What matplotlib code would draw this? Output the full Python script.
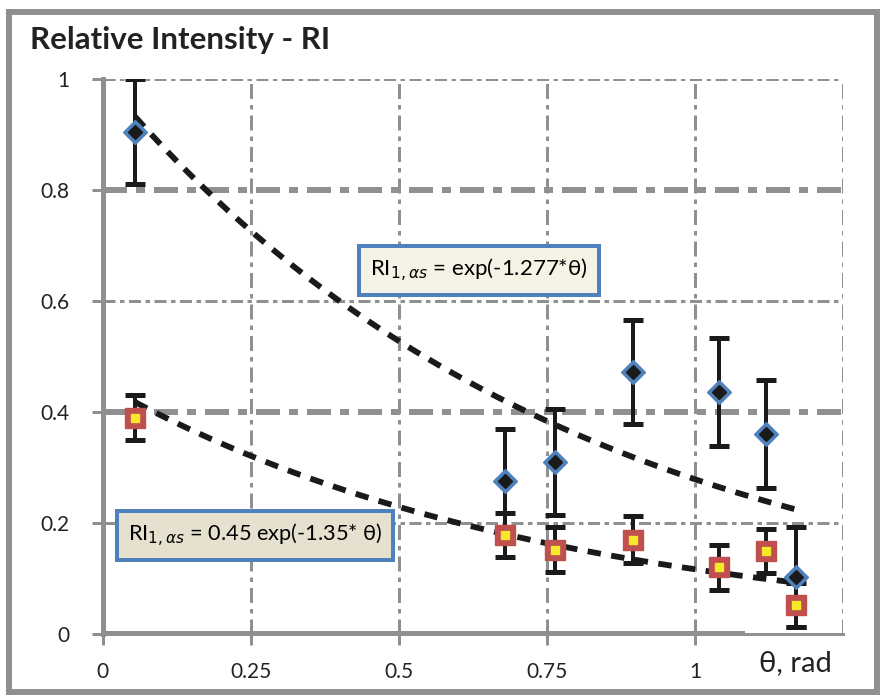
import numpy as np
import matplotlib.pyplot as plt
from matplotlib.patches import Rectangle

plt.rcParams['font.family'] = ['Lato', 'DejaVu Sans']

# measured points, upper series (diamonds)
theta_up = [0.055, 0.68, 0.764, 0.896, 1.04, 1.12, 1.17]
ri_up = [0.905, 0.275, 0.31, 0.472, 0.436, 0.36, 0.103]
err_up = [0.095, 0.095, 0.095, 0.093, 0.097, 0.097, 0.09]

# measured points, lower series (squares)
theta_lo = [0.055, 0.68, 0.764, 0.896, 1.04, 1.12, 1.17]
ri_lo = [0.39, 0.178, 0.152, 0.17, 0.12, 0.15, 0.052]
err_lo = [0.04, 0.04, 0.04, 0.042, 0.04, 0.04, 0.04]

# fitted trend lines shown in the boxes
a_up, k_up = 1.0, 1.277
a_lo, k_lo = 0.45, 1.35

xticks = [0, 0.25, 0.5, 0.75, 1]
xtick_labels = ['0', '0.25', '0.5', '0.75', '1']
yticks = [0, 0.2, 0.4, 0.6, 0.8, 1]
ytick_labels = ['0', '0.2', '0.4', '0.6', '0.8', '1']

grey = '#909090'
px = 72 / 100  # one pixel in points

fig = plt.figure(figsize=(8.83, 6.97), dpi=100)
fig.patches.append(Rectangle((9 / 883, 5 / 697), 868 / 883, 680 / 697,
                             transform=fig.transFigure, fill=False,
                             edgecolor=grey, linewidth=6 * px))
ax = fig.add_axes([102.5 / 883, 1 - 634 / 697, 740.5 / 883, 555 / 697])
ax.set_xlim(0, 1.25)
ax.set_ylim(0, 1)

# grid lines (Excel style dash-dot)
for y in [0.2, 0.4, 0.6, 0.8, 1.0]:
    w = 6 if y in (0.4, 0.8) else 3
    ax.axhline(y, color=grey, lw=w * px, dashes=(4, 1.5, 1.5, 1.5), zorder=0)
for x in [0.25, 0.5, 0.75, 1.0, 1.25]:
    ax.axvline(x, color=grey, lw=3 * px, dashes=(5, 2, 1.5, 2), zorder=0)

for s in ['top', 'right']:
    ax.spines[s].set_visible(False)
ax.spines['left'].set_color(grey)
ax.spines['left'].set_linewidth(5 * px)
ax.spines['bottom'].set_color(grey)
ax.spines['bottom'].set_linewidth(3 * px)
ax.axhline(0, xmax=1.08 / 1.25, color=grey, lw=6 * px, zorder=1)

ax.set_xticks(xticks)
ax.set_xticklabels(xtick_labels)
ax.set_yticks(yticks)
ax.set_yticklabels(ytick_labels)
ax.tick_params(axis='both', colors=grey, width=3 * px, length=8, labelsize=15,
               labelcolor='#222222')
ax.tick_params(axis='x', pad=12)
ax.tick_params(axis='y', pad=16)

# trend lines
tt = np.linspace(min(theta_up), max(theta_up), 200)
ax.plot(tt, a_up * np.exp(-k_up * tt), color='#1a1a1a', lw=4.2, dashes=(2.3, 1.8), zorder=3)
ax.plot(tt, a_lo * np.exp(-k_lo * tt), color='#1a1a1a', lw=4.2, dashes=(2.3, 1.8), zorder=3)

# error bars
ax.errorbar(theta_up, ri_up, yerr=err_up, fmt='none', ecolor='#1a1a1a',
            elinewidth=4 * px, capsize=7, capthick=5 * px, zorder=4)
ax.errorbar(theta_lo, ri_lo, yerr=err_lo, fmt='none', ecolor='#1a1a1a',
            elinewidth=4 * px, capsize=7, capthick=5 * px, zorder=4)

# markers
ax.plot(theta_up, ri_up, 'D', ms=12, mfc='#4f81bd', mec='#4f81bd', zorder=5)
ax.plot(theta_up, ri_up, 'D', ms=7, mfc='#1a1a1a', mec='#1a1a1a', zorder=6)
ax.plot(theta_lo, ri_lo, 's', ms=14, mfc='#c0504d', mec='#c0504d', zorder=5)
ax.plot(theta_lo, ri_lo, 's', ms=6, mfc='#f5e92a', mec='#f5e92a', zorder=6)

# equation boxes
box = dict(boxstyle='square,pad=0.5', fc='#f5f2e6', ec='#4f81bd', lw=4 * px)
ax.text(0.636, 0.655, r'RI$_{1,\alpha s}$ = exp(-1.277*θ)', ha='center', va='center',
        fontsize=16, bbox=box, zorder=7)
box2 = dict(boxstyle='square,pad=0.5', fc='#e6e1cf', ec='#4f81bd', lw=4 * px)
ax.text(0.258, 0.178, r'RI$_{1,\alpha s}$ = 0.45 exp(-1.35* θ)', ha='center', va='center',
        fontsize=15.7, bbox=box2, zorder=7)

fig.text(30 / 883, 1 - 40 / 697, 'Relative Intensity - RI', fontsize=22.5,
         fontweight='bold', va='center', color='#222222')
fig.text(795 / 883, 1 - 663 / 697, 'θ, rad', fontsize=21, ha='center', va='center',
         color='#222222')

fig.savefig('out.png', dpi=100)
